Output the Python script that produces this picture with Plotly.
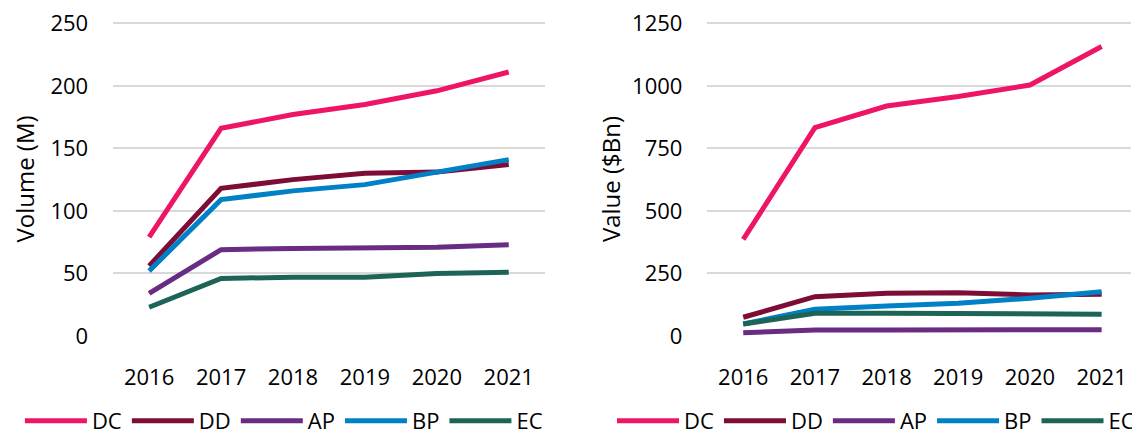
import plotly.graph_objects as go

years = ["2016", "2017", "2018", "2019", "2020", "2021"]
series_names = ["DC", "DD", "AP", "BP", "EC"]
colors = ["#EE1566", "#7D0C37", "#6A2B82", "#0080C6", "#1D6458"]

volume_DC = [79, 166, 177, 185, 196, 211]
volume_DD = [56, 118, 125, 130, 131, 137]
volume_AP = [34, 69, 70, 70, 71, 73]
volume_BP = [52, 109, 116, 121, 131, 141]
volume_EC = [23, 46, 47, 47, 50, 51]

value_DC = [386, 833, 919, 957, 1003, 1157]
value_DD = [75, 157, 171, 173, 164, 167]
value_AP = [13, 24, 24, 25, 25, 25]
value_BP = [48, 107, 120, 131, 151, 177]
value_EC = [48, 91, 91, 91, 91, 87]

volume = [volume_DC, volume_DD, volume_AP, volume_BP, volume_EC]
value = [value_DC, value_DD, value_AP, value_BP, value_EC]

vol_ticks = [0, 50, 100, 150, 200, 250]
val_ticks = [0, 250, 500, 750, 1000, 1250]

FONT = "Open Sans, Noto Sans, sans-serif"
FS = 22
W, H = 1132, 450  # page has an 8px body margin; bottom part falls outside the window

fig = go.Figure()
for name, col, ys in zip(series_names, colors, volume):
    fig.add_trace(go.Scatter(x=years, y=ys, name=name, mode="lines",
                             line=dict(color=col, width=5), xaxis="x", yaxis="y",
                             legend="legend"))
for name, col, ys in zip(series_names, colors, value):
    fig.add_trace(go.Scatter(x=years, y=ys, name=name, mode="lines",
                             line=dict(color=col, width=5), xaxis="x2", yaxis="y2",
                             legend="legend2"))

ydom = [(H - 328) / H, (H - 14) / H]
axis_common = dict(showline=False, zeroline=False, ticks="", automargin=False,
                   ticklabeloverflow="allow",
                   tickfont=dict(family=FONT, size=FS, color="#000"))
fig.update_layout(
    width=W, height=H,
    margin=dict(l=0, r=0, t=0, b=0),
    paper_bgcolor="white", plot_bgcolor="white",
    font=dict(family=FONT, color="#000"),
    xaxis=dict(domain=[106 / W, 541 / W], type="category", range=[-0.5, 5.5],
               showgrid=False, ticklabelstandoff=26, **axis_common),
    yaxis=dict(domain=ydom, range=[0, 251], tickvals=vol_ticks, showgrid=True,
               gridcolor="#D9D9D9", gridwidth=2, ticklabelstandoff=24,
               title=dict(text="Volume (M)", font=dict(family=FONT, size=24), standoff=18),
               **axis_common),
    xaxis2=dict(domain=[705 / W, 1.0], type="category", range=[-0.5, 5.41],
                showgrid=False, ticklabelstandoff=26, anchor="y2", **axis_common),
    yaxis2=dict(domain=ydom, range=[0, 1255], tickvals=val_ticks, showgrid=True,
                gridcolor="#D9D9D9", gridwidth=2, ticklabelstandoff=24, anchor="x2",
                title=dict(text="Value ($Bn)", font=dict(family=FONT, size=24), standoff=4),
                **axis_common),
    legend=dict(orientation="h", x=12 / W, y=16 / H, xanchor="left", yanchor="bottom",
                font=dict(family=FONT, size=FS), itemwidth=62, bgcolor="rgba(0,0,0,0)"),
    legend2=dict(orientation="h", x=609 / W, y=16 / H, xanchor="left", yanchor="bottom",
                 font=dict(family=FONT, size=FS), itemwidth=62, bgcolor="rgba(0,0,0,0)"),
)

fig.write_html("out.html")
